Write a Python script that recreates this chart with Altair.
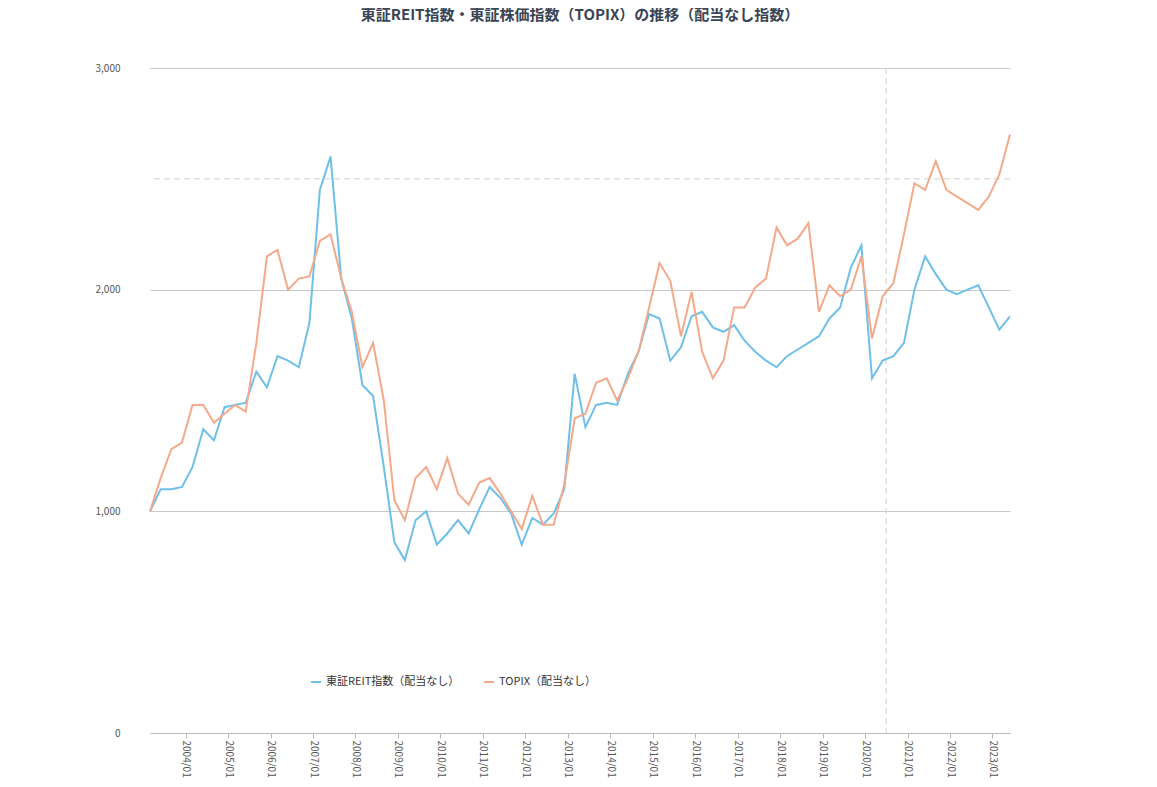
import altair as alt
import pandas as pd

dates = pd.date_range("2003-03-01", "2023-06-01", freq="3MS").strftime("%Y-%m-01").tolist()
reit = [1000,1100,1100,1110,1200,1370,1320,1470,1480,1490,1630,1560,1700,1680,1650,1850,
        2450,2600,2050,1870,1570,1520,1200,860,780,960,1000,850,900,960,900,1010,
        1110,1060,990,850,970,940,990,1100,1620,1380,1480,1490,1480,1620,1720,1890,
        1870,1680,1740,1880,1900,1830,1810,1840,1770,1720,1680,1650,1700,1730,1760,1790,
        1870,1920,2100,2200,1600,1680,1700,1760,2000,2150,2070,2000,1980,2000,2020,1920,1820,1880]
topix = [1000,1150,1280,1310,1480,1480,1400,1440,1480,1450,1760,2150,2180,2000,2050,2060,
         2220,2250,2050,1900,1650,1760,1500,1050,960,1150,1200,1100,1240,1080,1030,1130,
         1150,1080,1000,920,1070,940,940,1120,1420,1440,1580,1600,1500,1600,1720,1920,
         2120,2040,1790,1990,1720,1600,1680,1920,1920,2010,2050,2280,2200,2230,2300,1900,
         2020,1970,2000,2150,1780,1970,2030,2250,2480,2450,2580,2450,2420,2390,2360,2420,2520,2700]
series_names = ["東証REIT指数（配当なし）", "TOPIX（配当なし）"]
colors = ["#6ec0e8", "#f4a98a"]

n = min(len(dates), len(reit), len(topix))
df = pd.DataFrame({
    "date": dates[:n] * 2,
    "value": reit[:n] + topix[:n],
    "series": [series_names[0]] * n + [series_names[1]] * n,
})

font = "Noto Sans CJK JP"
lines = alt.Chart(df).mark_line(strokeWidth=2).encode(
    x=alt.X("date:T", title=None,
            scale=alt.Scale(domain=["2003-03-01", "2023-06-01"]),
            axis=alt.Axis(format="%Y/%m", tickCount={"interval": "year", "step": 1},
                          labelAngle=90, labelAlign="left", labelBaseline="middle",
                          grid=False, domainColor="#bbb", tickColor="#bbb",
                          labelColor="#555", labelFontSize=10, labelFont=font)),
    y=alt.Y("value:Q", title=None, scale=alt.Scale(domain=[0, 3000]),
            axis=alt.Axis(values=[0, 1000, 2000, 3000], format=",.0f", domain=False, ticks=False,
                          gridColor="#c8c8c8", labelColor="#555", labelFontSize=10,
                          labelPadding=30, labelFont=font)),
    color=alt.Color("series:N", sort=series_names,
                    scale=alt.Scale(domain=series_names, range=colors),
                    legend=alt.Legend(title=None, orient="none", direction="horizontal",
                                      legendX=160, legendY=608, symbolType="stroke",
                                      symbolStrokeWidth=2, labelFontSize=11, labelFont=font,
                                      labelColor="#333", columnPadding=20)),
)

hrule = alt.Chart(pd.DataFrame({"y": [2500]})).mark_rule(
    strokeDash=[6, 4], color="#d0d0d0").encode(y="y:Q")
vrule = alt.Chart(pd.DataFrame({"d": ["2020-07-01"]})).mark_rule(
    strokeDash=[6, 4], color="#d0d0d0").encode(x="d:T")

chart = alt.layer(hrule, vrule, lines).properties(
    width=860, height=665,
    padding={"left": 87, "top": 0, "right": 20, "bottom": 0},
    title=alt.TitleParams("東証REIT指数・東証株価指数（TOPIX）の推移（配当なし指数）",
                          font=font, fontSize=15, fontWeight="bold", color="#3a4556",
                          anchor="middle", offset=40),
).configure_view(stroke=None)

chart.save("out.html", embed_options={"renderer": "svg", "actions": False})
